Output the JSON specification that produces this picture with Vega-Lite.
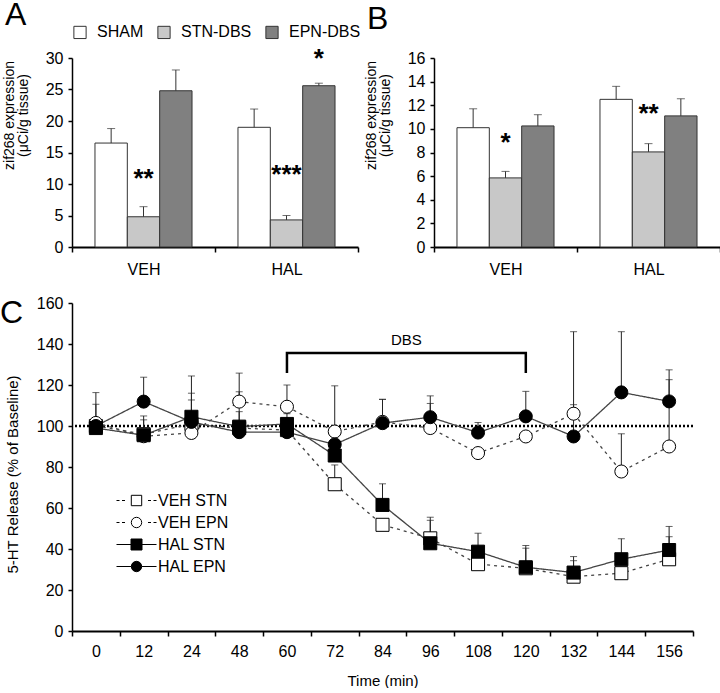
{
  "$schema": "https://vega.github.io/schema/vega-lite/v6.json",
  "padding": {"left": 0, "top": -2, "right": 0, "bottom": 0},
  "background": "white",
  "config": {
    "font": "Liberation Sans",
    "view": {"stroke": null},
    "axis": {"domainColor": "black", "domainWidth": 1.5, "tickColor": "black", "tickWidth": 1.5, "labelColor": "black", "titleColor": "black", "grid": false, "labelFontSize": 16, "labelOverlap": false, "titleFontWeight": "normal", "labelFont": "Liberation Sans", "titleFont": "Liberation Sans"},
    "title": {"font": "Liberation Sans", "fontWeight": "normal", "fontSize": 32, "color": "black", "anchor": "start", "frame": "group"},
    "legend": {"labelColor": "black", "labelFont": "Liberation Sans"}
  },
  "spacing": 18,
  "vconcat": [
    {
      "spacing": 5,
      "hconcat": [
        {
          "width": 286, "height": 189,
          "title": {"text": "A", "dx": -67, "dy": -10},
          "data": {"values": [
            {"drug": "VEH", "group": "SHAM", "value": 16.5, "upper": 18.8},
            {"drug": "VEH", "group": "STN-DBS", "value": 4.8, "upper": 6.4, "star": "**", "star_y": 9.6},
            {"drug": "VEH", "group": "EPN-DBS", "value": 24.8, "upper": 28.1},
            {"drug": "HAL", "group": "SHAM", "value": 19.0, "upper": 21.9},
            {"drug": "HAL", "group": "STN-DBS", "value": 4.3, "upper": 5.0, "star": "***", "star_y": 10.1},
            {"drug": "HAL", "group": "EPN-DBS", "value": 25.6, "upper": 26.0, "star": "*", "star_y": 28.6}
          ]},
          "encoding": {
            "x": {"field": "drug", "type": "nominal", "sort": ["VEH", "HAL"], "scale": {"paddingInner": 0, "paddingOuter": 0},
                  "axis": {"title": null, "labelAngle": 0, "tickBand": "extent", "tickSize": 5, "labelPadding": 9, "domainWidth": 2}},
            "xOffset": {"field": "group", "type": "nominal", "sort": ["SHAM", "STN-DBS", "EPN-DBS"], "scale": {"paddingInner": 0, "paddingOuter": 0.71}}
          },
          "layer": [
            {
              "mark": {"type": "bar", "stroke": "#333", "strokeWidth": 1},
              "encoding": {
                "y": {"field": "value", "type": "quantitative", "scale": {"domain": [0, 30], "nice": false},
                      "axis": {"values": [0, 5, 10, 15, 20, 25, 30], "tickCount": 7, "labelOverlap": false, "tickSize": 4, "labelPadding": 5, "title": ["zif268 expression", "(μCi/g tissue)"], "titleFontSize": 14, "titleLineHeight": 14, "titleX": -56, "titleY": 57}},
                "fill": {"field": "group", "type": "nominal", "sort": ["SHAM", "STN-DBS", "EPN-DBS"], "scale": {"range": ["white", "#c8c8c8", "#808080"]},
                         "legend": {"orient": "none", "legendX": 0, "legendY": -34, "direction": "horizontal", "title": null, "symbolType": "square", "symbolSize": 150, "symbolStrokeColor": "#333", "symbolStrokeWidth": 1, "labelFontSize": 16, "labelOffset": 9, "columnPadding": 11}}
              }
            },
            {
              "mark": {"type": "rule", "color": "#333", "strokeWidth": 1},
              "encoding": {"y": {"field": "value", "type": "quantitative"}, "y2": {"field": "upper"}}
            },
            {
              "mark": {"type": "tick", "color": "#333", "size": 8, "thickness": 1},
              "encoding": {"y": {"field": "upper", "type": "quantitative"}}
            },
            {
              "transform": [{"filter": "datum.star"}],
              "mark": {"type": "text", "fontSize": 26, "fontWeight": "bold", "baseline": "alphabetic", "color": "black"},
              "encoding": {"y": {"field": "star_y", "type": "quantitative"}, "text": {"field": "star"}}
            }
          ]
        },
        {
          "width": 286, "height": 189,
          "title": {"text": "B", "dx": -67, "dy": -10},
          "data": {"values": [
            {"drug": "VEH", "group": "SHAM", "value": 10.1, "upper": 11.7},
            {"drug": "VEH", "group": "STN-DBS", "value": 5.85, "upper": 6.4, "star": "*", "star_y": 8.1},
            {"drug": "VEH", "group": "EPN-DBS", "value": 10.25, "upper": 11.2},
            {"drug": "HAL", "group": "SHAM", "value": 12.5, "upper": 13.6},
            {"drug": "HAL", "group": "STN-DBS", "value": 8.05, "upper": 8.75, "star": "**", "star_y": 10.6},
            {"drug": "HAL", "group": "EPN-DBS", "value": 11.1, "upper": 12.55}
          ]},
          "encoding": {
            "x": {"field": "drug", "type": "nominal", "sort": ["VEH", "HAL"], "scale": {"paddingInner": 0, "paddingOuter": 0},
                  "axis": {"title": null, "labelAngle": 0, "tickBand": "extent", "tickSize": 5, "labelPadding": 9, "domainWidth": 2}},
            "xOffset": {"field": "group", "type": "nominal", "sort": ["SHAM", "STN-DBS", "EPN-DBS"], "scale": {"paddingInner": 0, "paddingOuter": 0.71}}
          },
          "layer": [
            {
              "mark": {"type": "bar", "stroke": "#333", "strokeWidth": 1},
              "encoding": {
                "y": {"field": "value", "type": "quantitative", "scale": {"domain": [0, 16], "nice": false},
                      "axis": {"values": [0, 2, 4, 6, 8, 10, 12, 14, 16], "tickCount": 9, "labelOverlap": false, "tickSize": 4, "labelPadding": 5, "title": ["zif268 expression", "(μCi/g tissue)"], "titleFontSize": 14, "titleLineHeight": 14, "titleX": -56, "titleY": 57}},
                "fill": {"field": "group", "type": "nominal", "sort": ["SHAM", "STN-DBS", "EPN-DBS"], "scale": {"range": ["white", "#c8c8c8", "#808080"]},
                         "legend": {"orient": "none", "legendX": 0, "legendY": -34, "direction": "horizontal", "title": null, "symbolType": "square", "symbolSize": 150, "symbolStrokeColor": "#333", "symbolStrokeWidth": 1, "labelFontSize": 16, "labelOffset": 9, "columnPadding": 11}}
              }
            },
            {
              "mark": {"type": "rule", "color": "#333", "strokeWidth": 1},
              "encoding": {"y": {"field": "value", "type": "quantitative"}, "y2": {"field": "upper"}}
            },
            {
              "mark": {"type": "tick", "color": "#333", "size": 8, "thickness": 1},
              "encoding": {"y": {"field": "upper", "type": "quantitative"}}
            },
            {
              "transform": [{"filter": "datum.star"}],
              "mark": {"type": "text", "fontSize": 26, "fontWeight": "bold", "baseline": "alphabetic", "color": "black"},
              "encoding": {"y": {"field": "star_y", "type": "quantitative"}, "text": {"field": "star"}}
            }
          ]
        }
      ]
    },
    {
      "width": 621, "height": 328,
      "title": {"text": "C", "dx": -72, "dy": 39},
      "data": {"values": [
        {"time": "0", "series": "VEH STN", "value": 100, "upper": 110.6},
        {"time": "12", "series": "VEH STN", "value": 96, "upper": 104.9},
        {"time": "24", "series": "VEH STN", "value": 101, "upper": 116},
        {"time": "48", "series": "VEH STN", "value": 99},
        {"time": "60", "series": "VEH STN", "value": 98},
        {"time": "72", "series": "VEH STN", "value": 71.6, "upper": 81},
        {"time": "84", "series": "VEH STN", "value": 51.8},
        {"time": "96", "series": "VEH STN", "value": 45.2, "upper": 54},
        {"time": "108", "series": "VEH STN", "value": 32.6},
        {"time": "120", "series": "VEH STN", "value": 30.6, "upper": 40.4},
        {"time": "132", "series": "VEH STN", "value": 26.5, "upper": 34.3},
        {"time": "144", "series": "VEH STN", "value": 28.2},
        {"time": "156", "series": "VEH STN", "value": 35, "upper": 46},
        {"time": "0", "series": "VEH EPN", "value": 101.5},
        {"time": "12", "series": "VEH EPN", "value": 95},
        {"time": "24", "series": "VEH EPN", "value": 96.6},
        {"time": "48", "series": "VEH EPN", "value": 111.9, "upper": 125.8},
        {"time": "60", "series": "VEH EPN", "value": 109.4, "upper": 120},
        {"time": "72", "series": "VEH EPN", "value": 97.3, "upper": 119.6},
        {"time": "84", "series": "VEH EPN", "value": 102, "upper": 113},
        {"time": "96", "series": "VEH EPN", "value": 99, "upper": 111},
        {"time": "108", "series": "VEH EPN", "value": 86.8},
        {"time": "120", "series": "VEH EPN", "value": 94.9},
        {"time": "132", "series": "VEH EPN", "value": 106, "upper": 110.4},
        {"time": "144", "series": "VEH EPN", "value": 77.8, "upper": 96.2},
        {"time": "156", "series": "VEH EPN", "value": 90, "upper": 122.6},
        {"time": "0", "series": "HAL STN", "value": 99},
        {"time": "12", "series": "HAL STN", "value": 95.5, "upper": 103},
        {"time": "24", "series": "HAL STN", "value": 104.5, "upper": 124.4},
        {"time": "48", "series": "HAL STN", "value": 99.7, "upper": 116.7},
        {"time": "60", "series": "HAL STN", "value": 101, "upper": 106},
        {"time": "72", "series": "HAL STN", "value": 85.6, "upper": 93},
        {"time": "84", "series": "HAL STN", "value": 61.5, "upper": 71.8},
        {"time": "96", "series": "HAL STN", "value": 42.8, "upper": 55.5},
        {"time": "108", "series": "HAL STN", "value": 38.7, "upper": 47.7},
        {"time": "120", "series": "HAL STN", "value": 31.1, "upper": 41.7},
        {"time": "132", "series": "HAL STN", "value": 28.5, "upper": 36.3},
        {"time": "144", "series": "HAL STN", "value": 35, "upper": 45},
        {"time": "156", "series": "HAL STN", "value": 39.5, "upper": 51},
        {"time": "0", "series": "HAL EPN", "value": 100, "upper": 116.3},
        {"time": "12", "series": "HAL EPN", "value": 111.9, "upper": 123.8},
        {"time": "24", "series": "HAL EPN", "value": 102, "upper": 112.7},
        {"time": "48", "series": "HAL EPN", "value": 97, "upper": 107},
        {"time": "60", "series": "HAL EPN", "value": 97},
        {"time": "72", "series": "HAL EPN", "value": 91},
        {"time": "84", "series": "HAL EPN", "value": 101.4, "upper": 113},
        {"time": "96", "series": "HAL EPN", "value": 104.3, "upper": 114.7},
        {"time": "108", "series": "HAL EPN", "value": 96.8, "upper": 101.7},
        {"time": "120", "series": "HAL EPN", "value": 104.7, "upper": 116.9},
        {"time": "132", "series": "HAL EPN", "value": 94.9, "upper": 146},
        {"time": "144", "series": "HAL EPN", "value": 116.4, "upper": 146},
        {"time": "156", "series": "HAL EPN", "value": 112, "upper": 127.4}
      ]},
      "encoding": {
        "x": {"field": "time", "type": "ordinal", "sort": ["0", "12", "24", "48", "60", "72", "84", "96", "108", "120", "132", "144", "156"],
              "scale": {"paddingInner": 0, "paddingOuter": 0},
              "axis": {"title": "Time (min)", "titleFontSize": 15, "titlePadding": 14, "labelAngle": 0, "tickBand": "extent", "tickSize": 5, "labelPadding": 7, "domainWidth": 2}}
      },
      "layer": [
        {
          "data": {"values": [{"baseline": 100}]},
          "mark": {"type": "rule", "color": "black", "strokeWidth": 2.5, "strokeDash": [2, 2]},
          "encoding": {"x": null, "y": {"field": "baseline", "type": "quantitative"}}
        },
        {
          "data": {"values": [
            {"time": "60", "v": 125.8, "o": 1},
            {"time": "60", "v": 135.6, "o": 2},
            {"time": "120", "v": 135.6, "o": 3},
            {"time": "120", "v": 125.8, "o": 4}
          ]},
          "mark": {"type": "line", "color": "black", "strokeWidth": 2.5},
          "encoding": {"y": {"field": "v", "type": "quantitative"}, "order": {"field": "o", "type": "quantitative"}}
        },
        {
          "data": {"values": [{"time": "84", "v": 139.5, "label": "DBS"}]},
          "mark": {"type": "text", "fontSize": 15, "color": "black", "baseline": "alphabetic"},
          "encoding": {"x": {"field": "time", "type": "ordinal", "bandPosition": 1, "sort": ["0", "12", "24", "48", "60", "72", "84", "96", "108", "120", "132", "144", "156"]}, "y": {"field": "v", "type": "quantitative"}, "text": {"field": "label"}}
        },
        {
          "mark": {"type": "rule", "color": "#222", "strokeWidth": 1},
          "encoding": {"y": {"field": "value", "type": "quantitative"}, "y2": {"field": "upper"}}
        },
        {
          "mark": {"type": "tick", "color": "#222", "size": 7, "thickness": 1},
          "encoding": {"y": {"field": "upper", "type": "quantitative"}}
        },
        {
          "mark": {"type": "line", "color": "#444", "strokeWidth": 1.3},
          "encoding": {
            "y": {"field": "value", "type": "quantitative", "scale": {"domain": [0, 160], "nice": false},
                  "axis": {"values": [0, 20, 40, 60, 80, 100, 120, 140, 160], "tickCount": 9, "labelOverlap": false, "tickSize": 4, "labelPadding": 5, "title": "5-HT Release (% of Baseline)", "titleFontSize": 15, "titleX": -52, "titleY": 171}},
            "detail": {"field": "series"},
            "strokeDash": {"field": "series", "type": "nominal", "scale": {"domain": ["VEH STN", "VEH EPN", "HAL STN", "HAL EPN"], "range": [[3, 4], [3, 4], [1, 0], [1, 0]]}, "legend": null}
          }
        },
        {
          "mark": {"type": "point", "stroke": "black", "strokeWidth": 1, "size": 170, "opacity": 1},
          "encoding": {
            "y": {"field": "value", "type": "quantitative"},
            "shape": {"field": "series", "type": "nominal", "scale": {"domain": ["VEH STN", "VEH EPN", "HAL STN", "HAL EPN"], "range": ["square", "circle", "square", "circle"]}, "legend": null},
            "fill": {"field": "series", "type": "nominal", "scale": {"domain": ["VEH STN", "VEH EPN", "HAL STN", "HAL EPN"], "range": ["white", "white", "black", "black"]}, "legend": null}
          }
        },
        {
          "data": {"values": [{"label": "VEH STN"}, {"label": "VEH EPN"}, {"label": "HAL STN"}, {"label": "HAL EPN"}]},
          "mark": {"type": "point", "stroke": "black", "opacity": 0},
          "encoding": {
            "x": null,
            "shape": {"field": "label", "type": "nominal",
                      "scale": {"domain": ["VEH STN", "VEH EPN", "HAL STN", "HAL EPN"],
                                "range": [
                                  "M-2,0H-1.7M-1.45,0H-1.15M1.15,0H1.45M1.7,0H2M-0.52,-0.52H0.52V0.52H-0.52Z",
                                  "M-2,0H-1.7M-1.45,0H-1.15M1.15,0H1.45M1.7,0H2M0.52,0A0.52,0.52 0 1,1 -0.52,0A0.52,0.52 0 1,1 0.52,0Z",
                                  "M-2,0H-0.55M0.55,0H2M-0.55,-0.55H0.55V0.55H-0.55Z",
                                  "M-2,0H-0.52M0.52,0H2M0.52,0A0.52,0.52 0 1,1 -0.52,0A0.52,0.52 0 1,1 0.52,0Z"
                                ]},
                      "legend": {"orient": "none", "legendX": 54, "legendY": 187, "title": null, "symbolSize": 400, "symbolStrokeColor": "black", "symbolStrokeWidth": 1, "symbolOpacity": 1, "labelFontSize": 16, "labelOffset": 11, "rowPadding": 3,
                                 "encode": {"symbols": {"update": {"stroke": {"value": "black"}, "strokeWidth": {"value": 1}, "strokeOpacity": {"value": 1}, "opacity": {"value": 1}}}}}},
            "fill": {"field": "label", "type": "nominal",
                     "scale": {"domain": ["VEH STN", "VEH EPN", "HAL STN", "HAL EPN"], "range": ["white", "white", "black", "black"]},
                     "legend": {"orient": "none", "legendX": 54, "legendY": 187, "title": null, "symbolSize": 400, "symbolStrokeColor": "black", "symbolStrokeWidth": 1, "symbolOpacity": 1, "labelFontSize": 16, "labelOffset": 11, "rowPadding": 3,
                                "encode": {"symbols": {"update": {"stroke": {"value": "black"}, "strokeWidth": {"value": 1}, "strokeOpacity": {"value": 1}, "opacity": {"value": 1}}}}}}
          }
        }
      ],
      "resolve": {"scale": {"shape": "independent", "fill": "independent"}}
    }
  ]
}
